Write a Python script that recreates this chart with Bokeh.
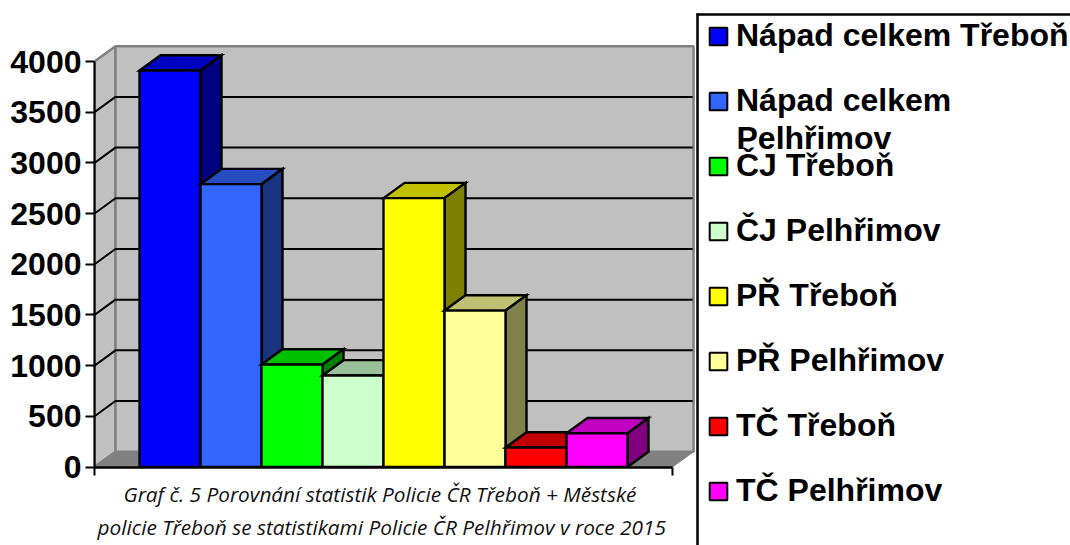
from bokeh.plotting import figure
from bokeh.layouts import row
from bokeh.models import Range1d, LinearAxis, FixedTicker, Legend, LegendItem, Label, Title
from bokeh.embed import file_html
from bokeh.resources import INLINE

legend_labels = ["Nápad celkem Třeboň", "Nápad celkem", "ČJ Třeboň", "ČJ Pelhřimov",
                 "PŘ Třeboň", "PŘ Pelhřimov", "TČ Třeboň", "TČ Pelhřimov"]
legend_wrapped = "Pelhřimov"
values = [3911, 2790, 1011, 903, 2652, 1543, 192, 333]
y_ticks = [0, 500, 1000, 1500, 2000, 2500, 3000, 3500, 4000]
caption = ["Graf č. 5 Porovnání statistik Policie ČR Třeboň + Městské",
           "policie Třeboň se statistikami Policie ČR Pelhřimov v roce 2015"]

front = ["#0000FF", "#3366FF", "#00FF00", "#CCFFCC", "#FFFF00", "#FFFF99", "#FF0000", "#FF00FF"]
top = ["#0000C0", "#264CC0", "#00C000", "#99C099", "#C0C000", "#C0C073", "#C00000", "#C000C0"]
side = ["#000080", "#1A3380", "#008000", "#668066", "#808000", "#80804D", "#800000", "#800080"]

SLOT = 61.0            # px per bar
VPX = 0.101375         # px per unit
DX = 21 / SLOT         # depth, in slots
DY = 15.3 / VPX        # depth, in units
XL, XR = -0.738, 8.738
LW = 2.4

WA, WB, H = 695, 375, 545
BL, BB = 94, 78
fw, fh = WA - BL, H - BB
x0 = XL
y0 = -0.5 / VPX
p = figure(width=WA, height=H, output_backend="svg", toolbar_location=None,
           x_range=Range1d(x0, x0 + fw / SLOT), y_range=Range1d(y0, y0 + fh / VPX),
           x_axis_type=None, y_axis_type=None, frame_height=fh, frame_width=fw, frame_align=False,
           min_border_left=BL, min_border_right=0, min_border_top=0, min_border_bottom=BB,
           outline_line_color=None, background_fill_color="white", border_fill_color="white")
p.grid.visible = False

# walls and floor
ymax = y_ticks[-1]
p.patch([XL, XL + DX, XL + DX, XL], [0, DY, ymax + DY, ymax], fill_color="#C0C0C0",
        line_color="#808080", line_width=2.5)
p.patch([XL + DX, XR + DX, XR + DX, XL + DX], [DY, DY, ymax + DY, ymax + DY], fill_color="#C0C0C0",
        line_color="#808080", line_width=2.5)
p.patch([XL, XL + DX, XR + DX, XR], [0, DY, DY, 0], fill_color="#808080", line_color="#808080", line_width=1)

# gridlines on the back and side walls
for v in y_ticks[1:-1]:
    p.line([XL, XL + DX, XR + DX - 0.015], [v, v + DY, v + DY], line_color="black", line_width=2)

for i, v in enumerate(values):
    l, r = i, i + 1
    p.patch([l, l + DX, r + DX, r], [v, v + DY, v + DY, v], fill_color=top[i],
            line_color="black", line_width=LW, line_join="miter")
    p.patch([r, r + DX, r + DX, r], [0, DY, v + DY, v], fill_color=side[i],
            line_color="black", line_width=LW, line_join="miter")
    p.vbar(x=[i + 0.5], width=1, bottom=0, top=[v], fill_color=front[i],
           line_color="black", line_width=LW)

yax = LinearAxis(ticker=FixedTicker(ticks=y_ticks), bounds=(0, ymax))
yax.axis_line_color = "black"
yax.axis_line_width = 2.2
yax.major_tick_line_width = 2.2
yax.major_tick_line_color = "black"
yax.major_tick_in = 0
yax.major_tick_out = 9
yax.minor_tick_line_color = None
yax.major_label_standoff = 4
yax.major_label_text_font = "Liberation Sans"
yax.major_label_text_font_style = "bold"
yax.major_label_text_font_size = "32px"
yax.major_label_text_color = "black"
p.add_layout(yax, "left")

xax = LinearAxis(ticker=FixedTicker(ticks=[XL, XR]), bounds=(XL, XR))
xax.axis_line_color = "black"
xax.axis_line_width = 2.4
xax.major_tick_line_width = 2
xax.major_tick_line_color = "black"
xax.major_tick_in = 0
xax.major_tick_out = 8
xax.minor_tick_line_color = None
xax.major_label_text_font_size = "0px"
xax.major_label_text_color = None
p.add_layout(xax, "below")

for txt, off, so in zip(caption, (29, 3), (4, 2)):
    p.add_layout(Title(text=txt, align="left", offset=off, standoff=so,
                       text_font="Open Sans", text_font_style="italic", text_font_size="20.8px",
                       text_color="#111111"), "below")

# legend panel: its ranges are the page's own pixels
q = figure(width=WB, height=H, output_backend="svg", toolbar_location=None,
           x_range=Range1d(WA, WA + WB), y_range=Range1d(H, 0), frame_align=False,
           x_axis_type=None, y_axis_type=None,
           min_border_left=0, min_border_right=0, min_border_top=0, min_border_bottom=0,
           outline_line_color=None, background_fill_color="white", border_fill_color="white")
q.grid.visible = False
q.segment(x0=[696, 697], y0=[14, 13], x1=[WA + WB, 697], y1=[14, H], line_color="black", line_width=2.5)
# the keys hold no visible bar: their swatches are all that is shown
nan = float("nan")
keys = [q.vbar(x=[nan], width=1, bottom=[nan], top=[nan], fill_color=front[i], line_color="black", line_width=2)
        for i in range(len(values))]
legend = Legend(items=[LegendItem(label=s, renderers=[r]) for s, r in zip(legend_labels, keys)],
                location=(12, 36), orientation="vertical",
                border_line_color=None, background_fill_alpha=0,
                padding=0, margin=0, spacing=28,
                glyph_width=22, glyph_height=22, label_standoff=7,
                label_text_font="Liberation Sans", label_text_font_style="bold",
                label_text_font_size="32px", label_text_color="black", label_height=37)
q.add_layout(legend, "center")
q.add_layout(Label(x=736, y=137, text=legend_wrapped, text_baseline="middle", text_font="Liberation Sans",
                   text_font_style="bold", text_font_size="32px", text_color="black"))

open("out.html", "w").write(file_html(row(p, q, spacing=0), INLINE))
